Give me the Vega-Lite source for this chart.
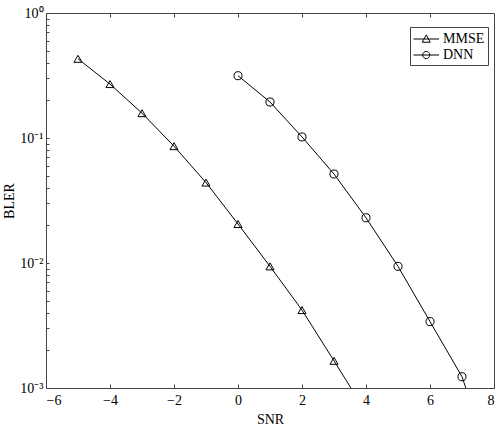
{
  "$schema": "https://vega.github.io/schema/vega-lite/v6.json",
  "autosize": "none",
  "width": 448,
  "height": 375,
  "padding": {"left": 46, "top": 13, "right": 3, "bottom": 43},
  "background": "white",
  "config": {
    "view": {"stroke": "#444", "strokeWidth": 1},
    "font": "Liberation Serif, Times New Roman, serif",
    "axis": {"labelFont": "Liberation Serif, Times New Roman, serif", "titleFont": "Liberation Serif, Times New Roman, serif", "labelFontSize": 14, "titleFontSize": 14, "titleFontWeight": "normal", "labelColor": "#000", "titleColor": "#000", "domainColor": "#444", "tickColor": "#444", "grid": false},
    "legend": {"labelFont": "Liberation Serif, Times New Roman, serif", "labelFontSize": 14}
  },
  "data": {
    "values": [
      {"series": "MMSE", "SNR": -5, "BLER": 0.43},
      {"series": "MMSE", "SNR": -4, "BLER": 0.27},
      {"series": "MMSE", "SNR": -3, "BLER": 0.158},
      {"series": "MMSE", "SNR": -2, "BLER": 0.086},
      {"series": "MMSE", "SNR": -1, "BLER": 0.044},
      {"series": "MMSE", "SNR": 0, "BLER": 0.0205},
      {"series": "MMSE", "SNR": 1, "BLER": 0.0094},
      {"series": "MMSE", "SNR": 2, "BLER": 0.0042},
      {"series": "MMSE", "SNR": 3, "BLER": 0.00165},
      {"series": "MMSE", "SNR": 4, "BLER": 0.00064},
      {"series": "DNN", "SNR": 0, "BLER": 0.315},
      {"series": "DNN", "SNR": 1, "BLER": 0.194},
      {"series": "DNN", "SNR": 2, "BLER": 0.102},
      {"series": "DNN", "SNR": 3, "BLER": 0.0515},
      {"series": "DNN", "SNR": 4, "BLER": 0.023},
      {"series": "DNN", "SNR": 5, "BLER": 0.0094},
      {"series": "DNN", "SNR": 6, "BLER": 0.0034},
      {"series": "DNN", "SNR": 7, "BLER": 0.00123},
      {"series": "DNN", "SNR": 8, "BLER": 0.00022}
    ]
  },
  "resolve": {"scale": {"shape": "independent"}, "axis": {"x": "independent"}},
  "layer": [
    {
      "mark": {"type": "line", "color": "#000", "strokeWidth": 1, "clip": true},
      "encoding": {
        "x": {"field": "SNR", "type": "quantitative", "scale": {"domain": [-6, 8], "nice": false, "zero": false},
          "axis": {"orient": "bottom", "title": "SNR", "values": [-6, -4, -2, 0, 2, 4, 6, 8], "tickSize": -4, "labelPadding": 9, "titlePadding": 5,
            "labelFont": "Liberation Serif", "labelFontSize": 14, "titleFont": "Liberation Serif", "titleFontSize": 14}},
        "y": {"field": "BLER", "type": "quantitative", "scale": {"type": "log", "domain": [0.001, 1], "nice": false},
          "axis": {"title": "BLER", "titlePadding": 3,
            "values": [0.001, 0.002, 0.003, 0.004, 0.005, 0.006, 0.007, 0.008, 0.009, 0.01, 0.02, 0.03, 0.04, 0.05, 0.06, 0.07, 0.08, 0.09, 0.1, 0.2, 0.3, 0.4, 0.5, 0.6, 0.7, 0.8, 0.9, 1],
            "labelExpr": "datum.value == 1 ? '10⁰' : abs(datum.value - 0.1) < 1e-9 ? '10⁻¹' : abs(datum.value - 0.01) < 1e-10 ? '10⁻²' : abs(datum.value - 0.001) < 1e-11 ? '10⁻³' : ''",
            "tickSize": -3, "labelPadding": 6,
            "labelFont": "Liberation Serif", "labelFontSize": 14, "titleFont": "Liberation Serif", "titleFontSize": 14}},
        "detail": {"field": "series"}
      }
    },
    {
      "mark": {"type": "point", "filled": false, "stroke": "#000", "strokeWidth": 1, "size": 65, "opacity": 1, "clip": true},
      "encoding": {
        "x": {"field": "SNR", "type": "quantitative",
          "axis": {"orient": "top", "title": null, "labels": false, "domain": false, "values": [-4, -2, 0, 2, 4, 6], "tickSize": -4}},
        "y": {"field": "BLER", "type": "quantitative"},
        "shape": {"field": "series", "type": "nominal", "scale": {"domain": ["MMSE", "DNN"], "range": ["triangle-up", "circle"]}, "legend": null}
      }
    },
    {
      "mark": {"type": "point", "filled": false, "opacity": 0, "clip": true},
      "encoding": {
        "x": {"field": "SNR", "type": "quantitative", "axis": null},
        "y": {"field": "BLER", "type": "quantitative"},
        "shape": {"field": "series", "type": "nominal", "sort": ["MMSE", "DNN"],
          "scale": {"domain": ["MMSE", "DNN"], "range": ["M-1,0H2M0.5,-0.48L0.97,0.38L0.03,0.38Z", "M-1,0H2M0.92,0A0.42,0.42 0 1,1 0.08,0A0.42,0.42 0 1,1 0.92,0Z"]},
          "legend": {"title": null, "orient": "none", "legendX": 364, "legendY": 14, "direction": "vertical",
            "strokeColor": "#444", "fillColor": "white", "padding": 3,
            "symbolSize": 289, "symbolOpacity": 1, "symbolStrokeColor": "#000", "symbolFillColor": "transparent", "symbolStrokeWidth": 1,
            "labelFont": "Liberation Serif", "labelFontSize": 14, "labelColor": "#000", "labelOffset": 12, "rowPadding": 0}}
      }
    }
  ]
}
